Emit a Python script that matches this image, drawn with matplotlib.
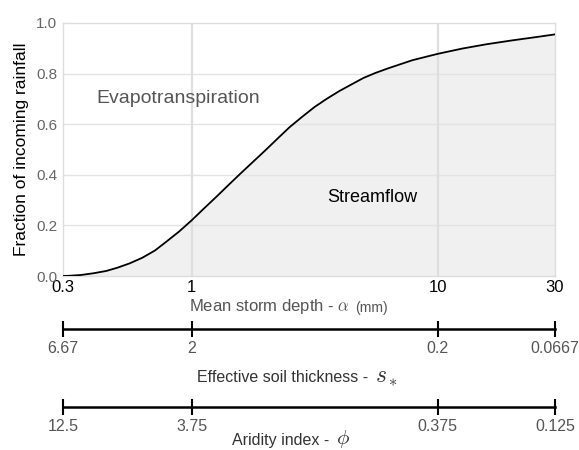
import matplotlib
matplotlib.use('Agg')
import matplotlib.pyplot as plt
from matplotlib.ticker import NullLocator, FixedLocator, FixedFormatter

plt.rcParams['font.family'] = ['Liberation Sans', 'DejaVu Sans']
plt.rcParams['mathtext.fontset'] = 'cm'

# values
storm_depth = [0.3, 0.32, 0.355, 0.4, 0.45, 0.5, 0.56, 0.63, 0.71, 0.79, 0.89,
               1.0, 1.12, 1.26, 1.41, 1.58, 1.78, 2.0, 2.24, 2.5, 2.82, 3.16,
               3.55, 4.0, 4.5, 5.0, 5.6, 6.3, 7.9, 10.0, 12.6, 15.8, 20.0,
               25.0, 30.0]
streamflow = [0.0, 0.001, 0.004, 0.011, 0.020, 0.033, 0.050, 0.072, 0.101, 0.136,
              0.176, 0.220, 0.266, 0.313, 0.359, 0.405, 0.452, 0.498, 0.544,
              0.588, 0.630, 0.668, 0.701, 0.732, 0.759, 0.783, 0.803, 0.821,
              0.853, 0.878, 0.899, 0.916, 0.931, 0.944, 0.955]

tick_pos = [0.3, 1, 10, 30]
alpha_labels = ['0.3', '1', '10', '30']
soil_labels = ['6.67', '2', '0.2', '0.0667']
aridity_labels = ['12.5', '3.75', '0.375', '0.125']

W, H = 579, 450
def fx(px):
    return px / W
def fy(py):
    return 1 - py / H

fig = plt.figure(figsize=(W / 100, H / 100), dpi=100)
L, R, T, B = 63, 555, 23, 276
ax = fig.add_axes([fx(L), fy(B), fx(R - L), (B - T) / H])

ax.fill_between(storm_depth, 0, streamflow, color='#f0f0f0', lw=0, zorder=1)
ax.plot(storm_depth, streamflow, color='black', lw=1.3, zorder=3)

ax.set_xscale('log')
ax.set_xlim(0.3, 30)
ax.set_ylim(0, 1)
ax.xaxis.set_major_locator(FixedLocator(tick_pos))
ax.xaxis.set_major_formatter(FixedFormatter(alpha_labels))
ax.xaxis.set_minor_locator(NullLocator())
ax.set_yticks([0, 0.2, 0.4, 0.6, 0.8, 1.0])
ax.set_yticklabels(['0.0', '0.2', '0.4', '0.6', '0.8', '1.0'])
ax.tick_params(axis='x', length=0, pad=3, labelsize=12, labelcolor='black')
ax.tick_params(axis='y', length=0, pad=4, labelsize=11, labelcolor='#666666')
for y in [0.2, 0.4, 0.6, 0.8]:
    ax.axhline(y, color='#e3e3e3', lw=1, zorder=2)
for x in [1, 10]:
    ax.axvline(x, color='#dedede', lw=1.6, zorder=2)
for s in ax.spines.values():
    s.set_color('#dddddd')
    s.set_linewidth(1)

ax.set_ylabel('Fraction of incoming rainfall', fontsize=12.5, labelpad=5)
ax.text(0.409, 0.70, 'Evapotranspiration', fontsize=14, color='#555555',
        va='center', ha='left')
ax.text(5.4, 0.31, 'Streamflow', fontsize=13, color='black',
        va='center', ha='center')

fig.text(fx(350), fy(307), r'Mean storm depth - $\alpha$', fontsize=12,
         color='#555555', ha='right', va='center')
fig.text(fx(355), fy(308), '(mm)', fontsize=10, color='#555555',
         ha='left', va='center')

# extra scales under the main axis
def scale_axis(py, labels):
    a = fig.add_axes([fx(L), fy(py), fx(R - L), 0.0001])
    a.set_xscale('log')
    a.set_xlim(0.3, 30)
    a.xaxis.set_major_locator(FixedLocator(tick_pos))
    a.xaxis.set_major_formatter(FixedFormatter(labels))
    a.xaxis.set_minor_locator(NullLocator())
    a.set_yticks([])
    for k in ['top', 'left', 'right']:
        a.spines[k].set_visible(False)
    a.spines['bottom'].set_linewidth(1.8)
    a.patch.set_visible(False)
    a.tick_params(axis='x', direction='inout', length=11, width=1.5,
                  labelsize=11.5, labelcolor='#555555', pad=3)
    return a

scale_axis(329, soil_labels)
fig.text(fx(373), fy(377), 'Effective soil thickness - ',
         fontsize=11.5, color='#333333', ha='right', va='center')
fig.text(fx(375), fy(377), r'$s_*$', fontsize=17, color='#333333',
         ha='left', va='center')
scale_axis(407, aridity_labels)
fig.text(fx(334), fy(440), 'Aridity index - ',
         fontsize=11.5, color='#333333', ha='right', va='center')
fig.text(fx(336), fy(439), r'$\phi$', fontsize=15, color='#333333',
         ha='left', va='center')

fig.savefig('out.png', dpi=100)
